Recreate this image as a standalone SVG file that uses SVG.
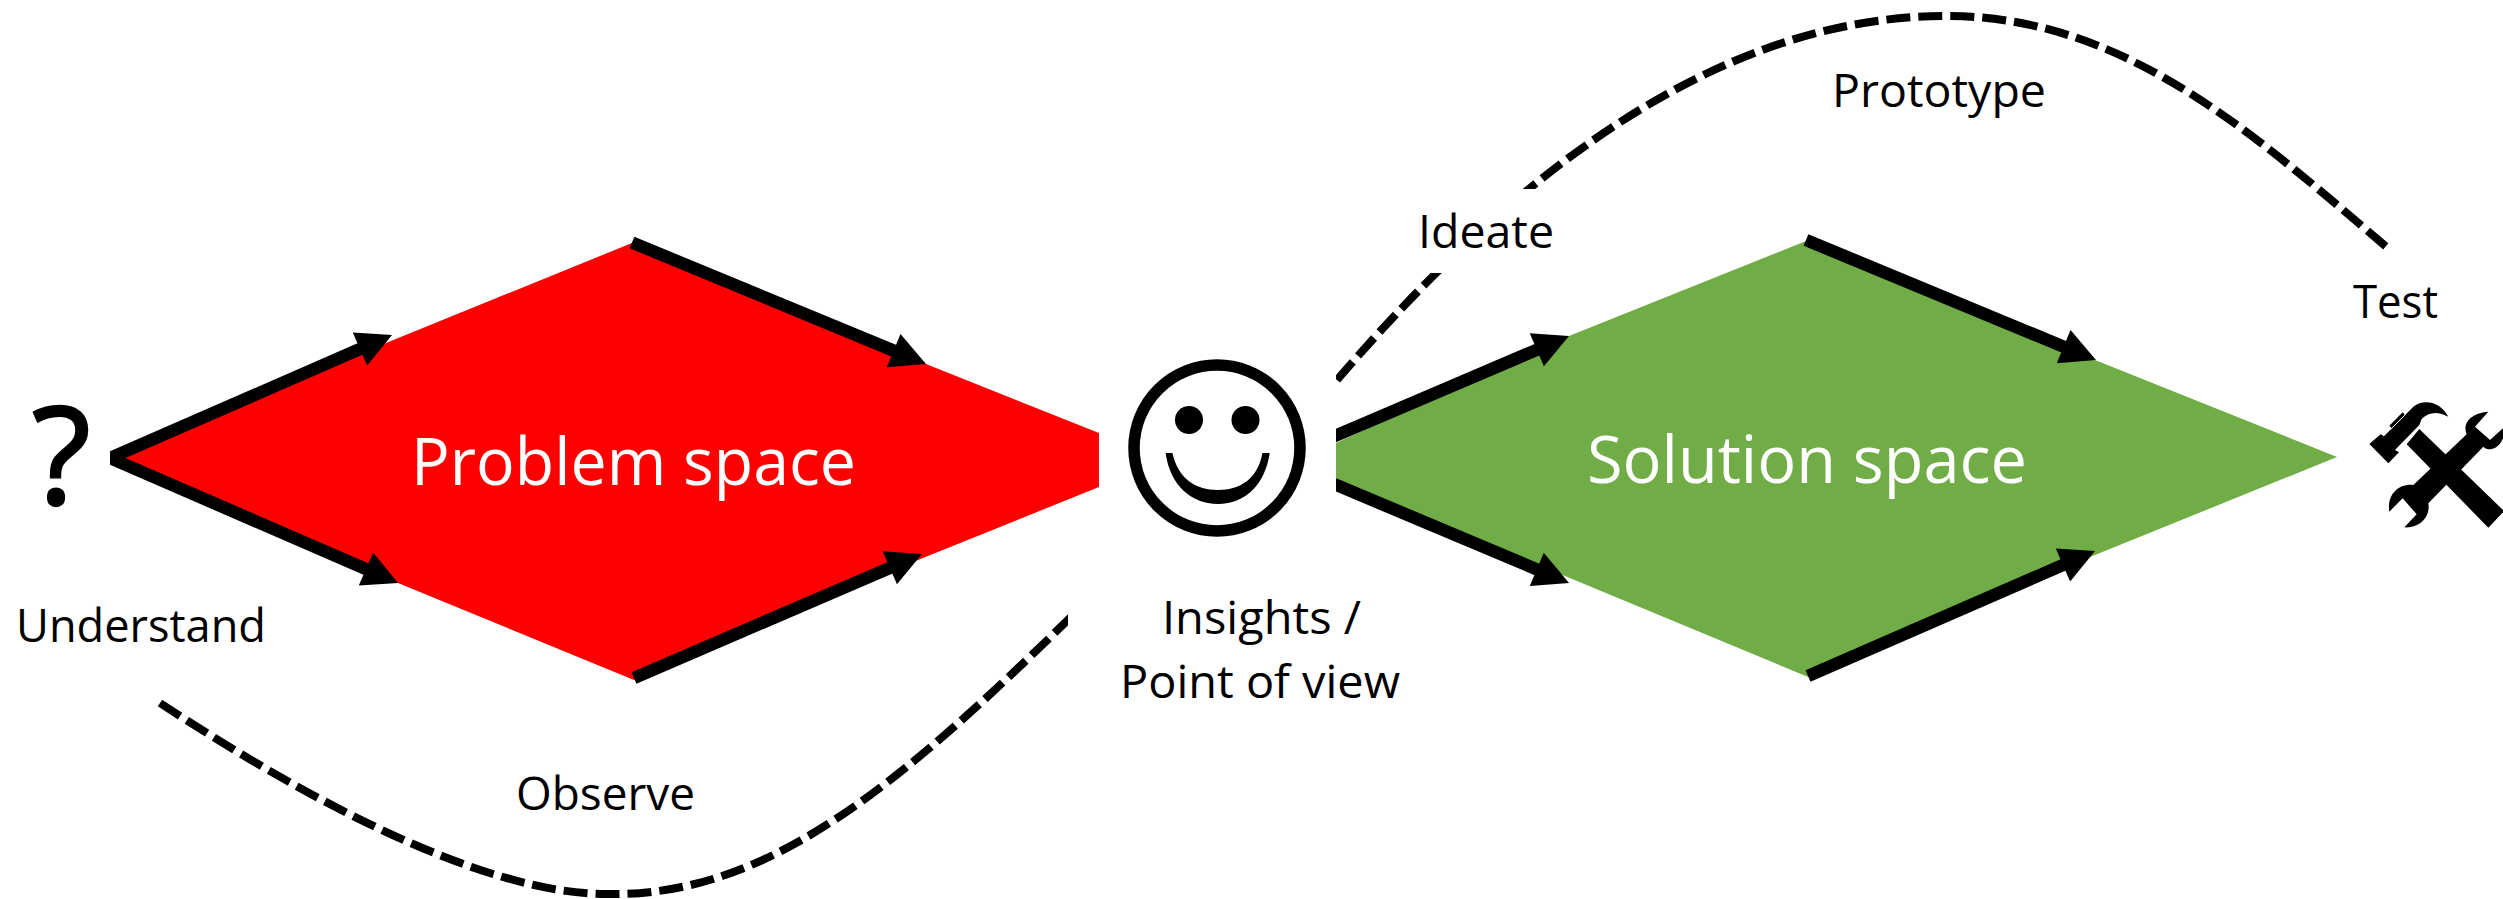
<svg xmlns="http://www.w3.org/2000/svg" width="2503" height="899" viewBox="0 0 2503 899">
<style>
text{font-family:"Open Sans","Noto Sans","Liberation Sans",sans-serif;fill:#000;font-size:46px}
.big{fill:#fff;font-size:66px}
.arrow{fill:none;stroke:#000;stroke-width:12.5;marker-end:url(#head)}
.dash{fill:none;stroke:#000;stroke-width:8;stroke-dasharray:24 8}
</style>
<defs>
<marker id="head" markerUnits="userSpaceOnUse" markerWidth="36" markerHeight="36" viewBox="0 0 35 36" refX="15" refY="18" orient="auto"><path d="M0,0L35,18L0,36Z" fill="#000"/></marker>
<clipPath id="clipL"><rect x="110" y="0" width="2393" height="899"/></clipPath>
<clipPath id="clipG"><rect x="1336" y="0" width="1167" height="899"/></clipPath>
<clipPath id="clipO"><rect x="0" y="0" width="1068" height="899"/></clipPath>
</defs>
<rect width="2503" height="899" fill="#fff"/>
<g id="problem-space"><polygon points="110,458 386,343 632,243 926,364 1099,433 1099,487 918,560 634,680 398,583" fill="#f00"/><text class="big" x="411" y="485" textLength="445" lengthAdjust="spacingAndGlyphs">Problem space</text></g>
<g id="solution-space"><polygon points="1336,443 1569,336 1806,241 2095,360 2337,457 2095,555 1808,677 1565,576 1336,478" fill="#70ad47"/><text class="big" x="1587" y="483" textLength="440" lengthAdjust="spacingAndGlyphs">Solution space</text></g>
<g id="connectors">
<g clip-path="url(#clipL)"><line class="arrow" x1="100" y1="462.4" x2="373.7" y2="343"/><line class="arrow" x1="100" y1="453.7" x2="379.7" y2="575"/></g>
<line class="arrow" x1="632" y1="242.5" x2="907.5" y2="356.4"/>
<line class="arrow" x1="634" y1="678" x2="903.6" y2="561.9"/>
<g clip-path="url(#clipG)"><line class="arrow" x1="1326" y1="439.8" x2="1550.6" y2="343.9"/><line class="arrow" x1="1326" y1="480.6" x2="1550.6" y2="575.2"/></g>
<line class="arrow" x1="1806" y1="240" x2="2077.5" y2="352.4"/>
<line class="arrow" x1="1808" y1="676" x2="2076.7" y2="559"/>
<path class="dash" clip-path="url(#clipO)" d="M160,703C300,795 480,894 607,894C765,897 895,790 1075,613"/>
<path class="dash" clip-path="url(#clipG)" d="M1337,380C1560,120 1760,16 1947,16C2125,16 2255,135 2390,250"/>
</g>
<g id="question"><text x="32" y="504" stroke="#000" stroke-width="2.5" style="font-size:136px">?</text></g>
<g id="understand"><text x="16" y="642" textLength="250" lengthAdjust="spacingAndGlyphs">Understand</text></g>
<g id="smiley">
<circle cx="1217" cy="448" r="83" fill="none" stroke="#000" stroke-width="11.5"/>
<circle cx="1189" cy="420" r="14"/><circle cx="1245.5" cy="420" r="14"/>
<path d="M1165.6,453L1172.4,453C1178,478 1195,490 1218,490C1241,490 1258,478 1262.4,453L1269.7,453C1265,485 1245,504 1218,504C1191,504 1170,485 1165.6,453Z"/>
</g>
<g id="insights"><text x="1162" y="634" textLength="199" lengthAdjust="spacingAndGlyphs">Insights /</text><text x="1120" y="698" textLength="280" lengthAdjust="spacingAndGlyphs">Point of view</text></g>
<g id="observe"><text x="516" y="810" textLength="179" lengthAdjust="spacingAndGlyphs">Observe</text></g>
<g id="ideate"><rect x="1400" y="189" width="160" height="84" fill="#fff"/><text x="1418" y="248" textLength="136" lengthAdjust="spacingAndGlyphs">Ideate</text></g>
<g id="prototype"><text x="1832" y="107" textLength="214" lengthAdjust="spacingAndGlyphs">Prototype</text></g>
<g id="test"><text x="2353" y="318" textLength="85" lengthAdjust="spacingAndGlyphs">Test</text></g>
<g id="tools" transform="translate(2360,395) scale(.33333)">
<path d="M178,102L429,345L429,352L385,398L140,148Z"/>
<path d="M28,147L62,118L72,124L160,35C190,12 240,18 265,65C235,48 205,50 185,72L178,90L105,165L117,172L85,205Z"/>
<path d="M88,92L128,52L135,60L95,100Z"/>
<path d="M92,103L137,58" stroke="#fff" stroke-width="3" fill="none"/>
<path d="M160,270L320,118C308,90 325,55 385,50L345,95L390,135L429,100L429,130C415,165 385,170 370,155L205,325C212,365 180,400 133,397L170,358L128,310L88,350C80,300 115,265 160,270Z"/>
</g>
</svg>
